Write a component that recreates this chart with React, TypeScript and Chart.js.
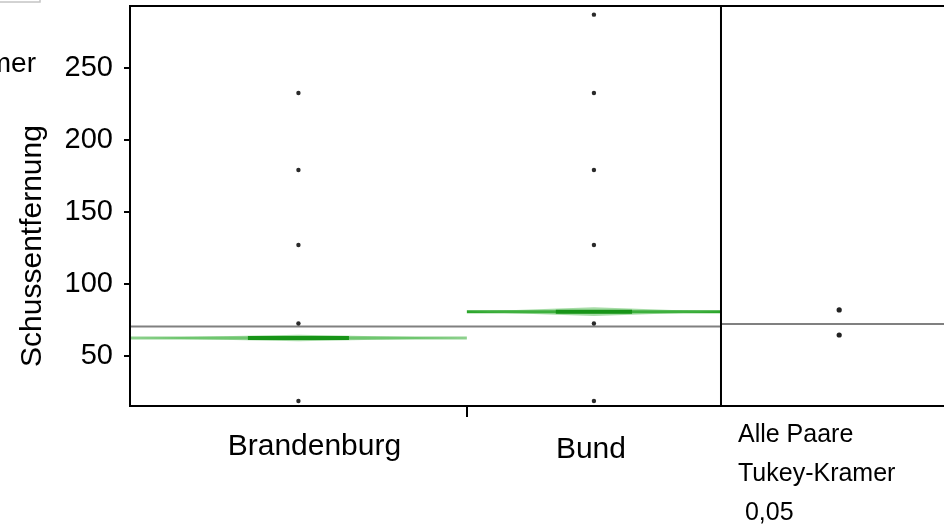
import React, { useEffect, useRef } from "react";
import { Chart, registerables } from "chart.js";

Chart.register(...registerables);

// ---- data ----
const categories = ["Brandenburg", "Bund"];
const groupShare = [0.57, 0.43]; // group widths, proportional to sample size
const brandenburgValues = [19.1, 72.9, 127.4, 179.5, 233.0];
const bundValues = [19.1, 72.9, 127.4, 179.5, 233.0, 287.4];
const groupMeans = [62.8, 81.1];
const meanCiHalf = [2.2, 3.0];
const grandMean = 70.8;
const circleCenters = [82.3, 64.9];
const circleGrandMean = 72.6;
const yTicks = [50, 100, 150, 200, 250];
const yTitle = "Schussentfernung";
const compareLines = ["Alle Paare", "Tukey-Kramer", " 0,05"];
const cornerLabel = "Teilnehmer";

// ---- layout / style ----
const Y_MIN = 15.6;
const Y_MAX = 293.4;
const X_MAX = 1.3875; // 0..1 group panel, 1..X_MAX comparison panel
const CIRCLE_X = 1.2;
const FONT = "'Liberation Sans', Arial, sans-serif";
const meanLineColors = ["#8fd28f", "#2ca62c"];
const labelNudge = [16, -3];
const labelBaseline = [455, 458];

const groupStarts = groupShare.map((_, i) =>
  groupShare.slice(0, i).reduce((a, b) => a + b, 0)
);
const groupCenters = groupShare.map((s, i) => groupStarts[i] + s / 2);

function strokeLine(ctx: CanvasRenderingContext2D, x0: number, y0: number, x1: number, y1: number) {
  ctx.beginPath();
  ctx.moveTo(x0, y0);
  ctx.lineTo(x1, y1);
  ctx.stroke();
}

const onewayPlugin = {
  id: "oneway",
  beforeDatasetsDraw(chart: any) {
    const { ctx, chartArea } = chart;
    const x = chart.scales.x;
    const y = chart.scales.y;
    ctx.save();

    // grand mean
    ctx.strokeStyle = "#808080";
    ctx.lineWidth = 2;
    const gy = y.getPixelForValue(grandMean);
    strokeLine(ctx, x.getPixelForValue(0), gy, x.getPixelForValue(1), gy);
    const cy = y.getPixelForValue(circleGrandMean);
    strokeLine(ctx, x.getPixelForValue(1), cy, chartArea.right + 20, cy);

    // mean diamonds
    groupShare.forEach((share, i) => {
      const x0 = x.getPixelForValue(groupStarts[i]);
      const x1 = x.getPixelForValue(groupStarts[i] + share);
      const xc = (x0 + x1) / 2;
      const ym = y.getPixelForValue(groupMeans[i]);
      const yt = y.getPixelForValue(groupMeans[i] + meanCiHalf[i]);
      const yb = y.getPixelForValue(groupMeans[i] - meanCiHalf[i]);

      ctx.strokeStyle = meanLineColors[i];
      ctx.lineWidth = 3;
      strokeLine(ctx, x0, ym, x1, ym);

      ctx.fillStyle = "rgba(80,185,80,0.5)";
      ctx.beginPath();
      ctx.moveTo(x0, ym);
      ctx.lineTo(xc, yt);
      ctx.lineTo(x1, ym);
      ctx.lineTo(xc, yb);
      ctx.closePath();
      ctx.fill();

      const half = (x1 - x0) * 0.15;
      ctx.strokeStyle = "#179417";
      ctx.lineWidth = 4;
      strokeLine(ctx, xc - half, ym, xc + half, ym);
    });
    ctx.restore();
  },
  afterDraw(chart: any) {
    const { ctx, chartArea, width } = chart;
    const x = chart.scales.x;
    ctx.save();

    // frame
    ctx.strokeStyle = "#000";
    ctx.lineWidth = 2;
    const left = chartArea.left;
    const div = x.getPixelForValue(1);
    strokeLine(ctx, left, chartArea.top, width, chartArea.top);
    strokeLine(ctx, left, chartArea.bottom, width, chartArea.bottom);
    strokeLine(ctx, left, chartArea.top - 1, left, chartArea.bottom + 1);
    strokeLine(ctx, div, chartArea.top - 1, div, chartArea.bottom + 1);

    // category labels
    ctx.fillStyle = "#000";
    ctx.font = `30px ${FONT}`;
    ctx.textAlign = "center";
    ctx.textBaseline = "alphabetic";
    categories.forEach((c, i) => {
      ctx.fillText(c, x.getPixelForValue(groupCenters[i]) + labelNudge[i], labelBaseline[i]);
    });

    // y-axis title
    ctx.save();
    ctx.translate(41, 246);
    ctx.rotate(-Math.PI / 2);
    ctx.textAlign = "center";
    ctx.fillText(yTitle, 0, 0);
    ctx.restore();

    // comparison panel caption
    ctx.font = `25px ${FONT}`;
    ctx.textAlign = "left";
    compareLines.forEach((t, i) => {
      ctx.fillText(t, div + 17, 442 + i * 39);
    });

    // corner remnants
    ctx.font = `28px ${FONT}`;
    ctx.textAlign = "right";
    ctx.fillText(cornerLabel, 36, 72);
    ctx.strokeStyle = "#c4c4c4";
    ctx.lineWidth = 1.5;
    ctx.strokeRect(-10, -10, 50, 12);

    ctx.restore();
  },
};

export default function App() {
  const ref = useRef<HTMLCanvasElement | null>(null);

  useEffect(() => {
    if (!ref.current) return;
    const chart = new Chart(ref.current, {
      type: "scatter",
      data: {
        datasets: [
          {
            label: categories[0],
            data: brandenburgValues.map((v) => ({ x: groupCenters[0], y: v })),
            pointRadius: 2.2,
            pointBackgroundColor: "#2a2a2a",
            pointBorderWidth: 0,
          },
          {
            label: categories[1],
            data: bundValues.map((v) => ({ x: groupCenters[1], y: v })),
            pointRadius: 2.2,
            pointBackgroundColor: "#2a2a2a",
            pointBorderWidth: 0,
          },
          {
            label: "Tukey-Kramer",
            data: circleCenters.map((v) => ({ x: CIRCLE_X, y: v })),
            pointRadius: 2.6,
            pointBackgroundColor: "#222",
            pointBorderWidth: 0,
          },
        ],
      },
      options: {
        animation: false,
        responsive: false,
        devicePixelRatio: 1,
        layout: { padding: { left: 0, right: 10, top: 6, bottom: 0 } },
        plugins: { legend: { display: false }, tooltip: { enabled: false } },
        scales: {
          x: {
            type: "linear",
            position: "bottom",
            min: 0,
            max: X_MAX,
            border: { display: false },
            grid: { drawOnChartArea: false, drawTicks: true, tickLength: 11, color: "#000", lineWidth: 2 },
            ticks: { callback: () => "", font: { size: 1 } },
            afterBuildTicks: (s: any) => {
              s.ticks = [{ value: groupShare[0] }];
            },
            afterFit: (s: any) => {
              s.height = 118;
              s.paddingLeft = 0;
              s.paddingRight = 0;
              s.paddingTop = 0;
              s.paddingBottom = 0;
            },
          },
          y: {
            type: "linear",
            min: Y_MIN,
            max: Y_MAX,
            border: { display: false },
            grid: { drawOnChartArea: false, drawTicks: true, tickLength: 6, color: "#000", lineWidth: 2 },
            ticks: { color: "#000", padding: 11, font: { family: FONT, size: 29 } },
            afterBuildTicks: (s: any) => {
              s.ticks = yTicks.map((v) => ({ value: v }));
            },
            afterFit: (s: any) => {
              s.width = 130;
              s.paddingLeft = 0;
              s.paddingRight = 0;
              s.paddingTop = 0;
              s.paddingBottom = 0;
            },
          },
        },
      },
      plugins: [onewayPlugin],
    });
    return () => chart.destroy();
  }, []);

  return (
    <div
      style={{
        position: "fixed",
        left: 0,
        top: 0,
        width: 944,
        height: 524,
        overflow: "hidden",
        background: "#fff",
      }}
    >
      <canvas ref={ref} width={960} height={524} style={{ display: "block", width: 960, height: 524 }} />
    </div>
  );
}
